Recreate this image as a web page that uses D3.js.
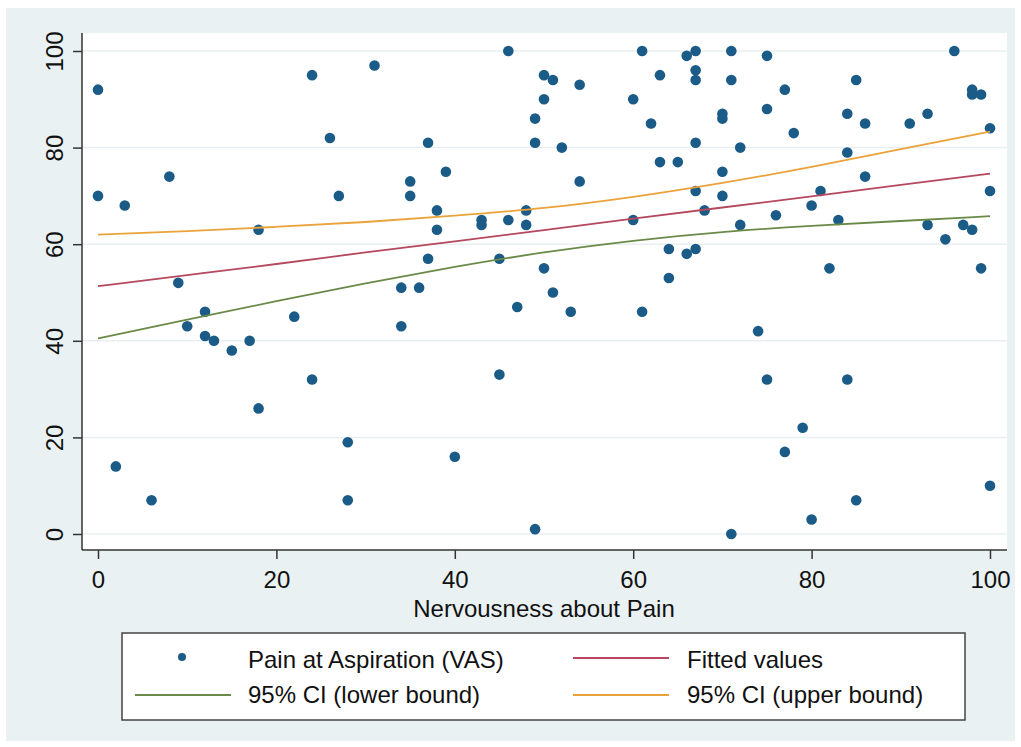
<!DOCTYPE html>
<html>
<head>
<meta charset="utf-8">
<script src="https://cdn.jsdelivr.net/npm/d3@7"></script>
<style>
  body { margin: 0; background: #fff; }
  text { font-family: "Liberation Sans", Arial, Helvetica, sans-serif; fill: #111; }
</style>
</head>
<body>
<div id="chart"></div>
<script>
// nervousness about pain (x) and pain at aspiration VAS (y), one entry per patient
var nervousness = [0,0,2,3,6,8,9,10,12,12,13,15,17,18,18,22,24,24,26,27,28,28,31,34,34,35,35,36,37,37,
    38,38,39,40,43,43,45,45,46,46,47,48,48,49,49,49,50,50,50,51,51,52,53,54,54,60,60,61,61,62,
    63,63,64,64,65,66,66,67,67,67,67,67,67,68,70,70,70,70,71,71,71,72,72,74,75,75,75,76,77,77,
    78,79,80,80,81,82,83,84,84,84,85,85,86,86,91,93,93,95,96,97,98,98,98,99,99,100,100,100];
var painVAS = [92,70,14,68,7,74,52,43,46,41,40,38,40,63,26,45,95,32,82,70,19,7,97,51,43,73,70,51,81,57,
    67,63,75,16,65,64,57,33,100,65,47,67,64,86,81,1,95,90,55,94,50,80,46,93,73,90,65,100,46,85,
    95,77,59,53,77,99,58,100,96,94,81,71,59,67,87,86,75,70,100,94,0,80,64,42,99,88,32,66,92,17,
    83,22,68,3,71,55,65,87,79,32,94,7,85,74,85,87,64,61,100,64,92,91,63,91,55,84,71,10];

// fitted line and 95% CI read at these x values
var fitX   = [0,10,20,30,40,50,60,70,80,90,100];
var fitted = [51.3,53.6,55.9,58.3,60.6,62.9,65.3,67.6,69.9,72.3,74.6];
var ciLow  = [40.5,44.4,48.2,51.9,55.3,58.3,60.7,62.5,63.8,64.8,65.8];
var ciHigh = [62.0,62.7,63.6,64.6,65.9,67.5,69.8,72.7,76.0,79.7,83.3];

var xTicks = [0,20,40,60,80,100];
var yTicks = [0,20,40,60,80,100];

var width = 1021, height = 747;
var plotL = 82, plotR = 1007, plotT = 33, plotB = 550;

var x = d3.scaleLinear().domain([0, 100]).range([98, 990]);
var y = d3.scaleLinear().domain([0, 100]).range([534, 51]);

var cMarker = "#1b5b87", cFit = "#b5485c", cLow = "#6a8a48", cHigh = "#eba23a";

var svg = d3.select("#chart").append("svg")
    .attr("width", width)
    .attr("height", height);

// outer graph region + plot region
svg.append("rect").attr("x", 6).attr("y", 8).attr("width", 1009).attr("height", 733)
    .attr("fill", "#eaf1f3");
svg.append("rect").attr("x", plotL).attr("y", plotT)
    .attr("width", plotR - plotL).attr("height", plotB - plotT)
    .attr("fill", "#fff");

// gridlines
svg.append("g").selectAll("line")
    .data(yTicks)
    .enter().append("line")
    .attr("x1", plotL).attr("x2", plotR)
    .attr("y1", function(d) { return y(d); })
    .attr("y2", function(d) { return y(d); })
    .attr("stroke", "#e9eff1")
    .attr("stroke-width", 1.5);

// axes
var gx = svg.append("g")
    .attr("transform", "translate(0," + plotB + ")")
    .call(d3.axisBottom(x).tickValues(xTicks).tickSize(9).tickPadding(12).tickSizeOuter(0));
gx.select(".domain").remove();
gx.selectAll("line").attr("stroke", "#333").attr("stroke-width", 1.5);
gx.selectAll("text").style("font-size", "24px").attr("fill", "#111");

var gy = svg.append("g")
    .attr("transform", "translate(" + plotL + ",0)")
    .call(d3.axisLeft(y).tickValues(yTicks).tickSize(9).tickSizeOuter(0));
gy.select(".domain").remove();
gy.selectAll("line").attr("stroke", "#333").attr("stroke-width", 1.5);
gy.selectAll("text")
    .attr("x", null).attr("dy", null)
    .attr("transform", "translate(-19,0) rotate(-90)")
    .attr("text-anchor", "middle")
    .attr("fill", "#111")
    .style("font-size", "24px");

svg.append("line").attr("x1", plotL).attr("x2", plotR).attr("y1", plotB).attr("y2", plotB)
    .attr("stroke", "#333").attr("stroke-width", 1.5);
svg.append("line").attr("x1", plotL).attr("x2", plotL).attr("y1", plotT).attr("y2", plotB)
    .attr("stroke", "#333").attr("stroke-width", 1.5);

svg.append("text")
    .attr("x", (x(0) + x(100)) / 2).attr("y", 617)
    .attr("text-anchor", "middle")
    .style("font-size", "24px")
    .text("Nervousness about Pain");

// scatter
svg.append("g").selectAll("circle")
    .data(nervousness)
    .enter().append("circle")
    .attr("cx", function(d) { return x(d); })
    .attr("cy", function(d, i) { return y(painVAS[i]); })
    .attr("r", 5.3)
    .attr("fill", cMarker);

// fit lines
var line = d3.line()
    .x(function(d, i) { return x(fitX[i]); })
    .y(function(d) { return y(d); })
    .curve(d3.curveNatural);

[[fitted, cFit], [ciLow, cLow], [ciHigh, cHigh]].forEach(function(s) {
    svg.append("path")
        .attr("d", line(s[0]))
        .attr("fill", "none")
        .attr("stroke", s[1])
        .attr("stroke-width", 1.8);
});

// legend
var legend = svg.append("g");
legend.append("rect")
    .attr("x", 122).attr("y", 633).attr("width", 843).attr("height", 87)
    .attr("fill", "#fff").attr("stroke", "#444").attr("stroke-width", 1.5);

var items = [
    { label: "Pain at Aspiration (VAS)", color: cMarker, dot: true, lx: 135, tx: 248, cy: 657, ty: 668 },
    { label: "Fitted values", color: cFit, dot: false, lx: 573, tx: 687, cy: 658, ty: 668 },
    { label: "95% CI (lower bound)", color: cLow, dot: false, lx: 135, tx: 248, cy: 695, ty: 703 },
    { label: "95% CI (upper bound)", color: cHigh, dot: false, lx: 573, tx: 687, cy: 695, ty: 703 }
];

items.forEach(function(d) {
    if (d.dot) {
        legend.append("circle").attr("cx", 182).attr("cy", d.cy).attr("r", 4)
            .attr("fill", d.color);
    } else {
        legend.append("line")
            .attr("x1", d.lx).attr("x2", d.lx + 96)
            .attr("y1", d.cy).attr("y2", d.cy)
            .attr("stroke", d.color).attr("stroke-width", 1.8);
    }
    legend.append("text")
        .attr("x", d.tx).attr("y", d.ty)
        .style("font-size", "24px")
        .text(d.label);
});
</script>
</body>
</html>
